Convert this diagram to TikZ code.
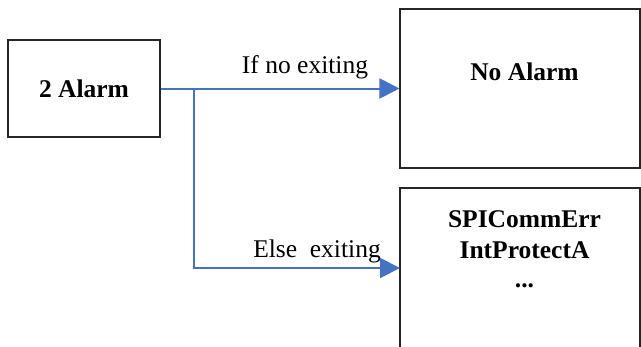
\documentclass[tikz,border=0pt]{standalone}
\usepackage{fontspec}
\setmainfont{Liberation Serif}
\usetikzlibrary{arrows.meta}
\definecolor{flowblue}{HTML}{4472C4}
\definecolor{boxline}{HTML}{262626}
\tikzset{
  box/.style={draw=boxline, line width=1.1pt, rectangle, inner sep=0pt},
  boxtext/.style={font=\bfseries\fontsize{25.5}{31}\selectfont, align=center, inner sep=0pt},
  lbl/.style={font=\fontsize{25.5}{31}\selectfont, inner sep=0pt, anchor=base},
  conn/.style={draw=flowblue, line width=2pt, -{Triangle[length=20pt,width=20pt]}},
  wire/.style={draw=flowblue, line width=2pt}
}
\begin{document}
\begin{tikzpicture}[x=1pt,y=-1pt]
\useasboundingbox (0,0) rectangle (641,346);
\clip (0,0) rectangle (641,346);
\fill[white] (0,0) rectangle (641,346);
% boxes
\node[box, minimum width=152pt, minimum height=97pt] (src) at (84,88.5) {};
\node[box, minimum width=240pt, minimum height=159pt] (noalarm) at (520,88.5) {};
\node[box, minimum width=240pt, minimum height=180pt] (alarms) at (520,278) {};
% texts
\node[boxtext, anchor=base] (srct) at (84,97) {2 Alarm};
\node[boxtext, anchor=base] (noalarmt) at (524.5,80) {No Alarm};
\node[boxtext, anchor=base] (l1) at (524.5,227) {SPICommErr};
\node[boxtext, anchor=base] (l2) at (524.5,258) {IntProtectA};
\node[boxtext, anchor=base] (l3) at (524.5,287) {...};
% labels
\node[lbl] (lab1) at (305,73) {If no exiting};
\node[lbl] (lab2) at (317,257) {Else\ \ exiting};
% connectors
\coordinate (split) at (194,88.5);
\coordinate (corner) at (194,268);
\coordinate (tgt) at (400,268);
\draw[conn] (src.east) -- (noalarm.west);
\draw[conn] (split) -- (corner) -- (tgt);
\end{tikzpicture}
\end{document}
